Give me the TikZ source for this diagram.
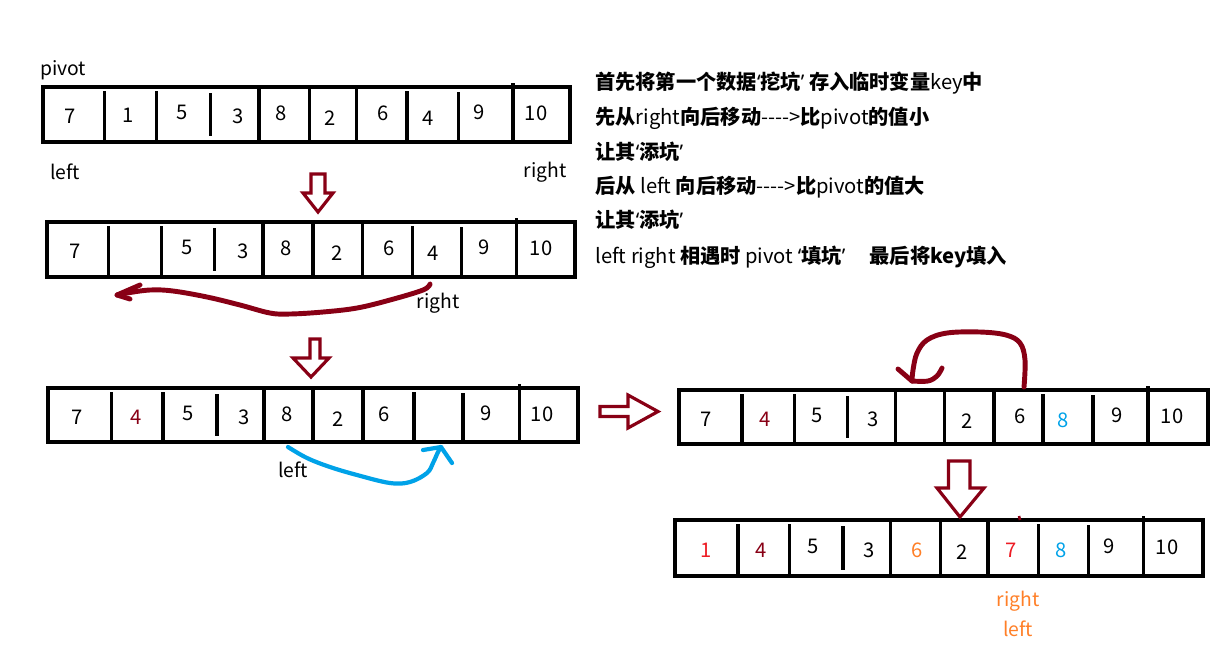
\documentclass[tikz,border=0pt]{standalone}
\usepackage{fontspec}
\setmainfont{Noto Sans CJK SC}
\newfontfamily\lat{Noto Sans}
\usepackage{tikz}
\usetikzlibrary{positioning}
\definecolor{pdarkred}{RGB}{136,0,21}
\definecolor{pblue}{RGB}{0,162,232}
\definecolor{pred}{RGB}{237,28,36}
\definecolor{porange}{RGB}{255,127,39}
\newcommand\opq{{\lat ‘}}
\newcommand\clq{{\lat ’}}

\begin{document}
\begin{tikzpicture}[x=0.02cm, y=-0.02cm, font=\fontsize{11}{13}\selectfont,
 box/.style={draw,line width=1.8pt},
 num/.style={inner sep=0pt,font=\fontsize{11.5}{13}\selectfont},
 lab/.style={inner sep=0pt},
 note/.style={anchor=west,inner sep=0pt,text height=9pt,text depth=2pt,font=\fontsize{11.5}{13}\selectfont},
 hollow/.style={draw=pdarkred,line width=1.8pt,fill=white},
 ink/.style={draw=pdarkred,line width=2.8pt,line cap=round,line join=round},
 inkb/.style={draw=pblue,line width=2.4pt,line cap=round,line join=round}]
\useasboundingbox (0,0) rectangle (1222,664);

% row 1: start
\draw[box] (43,87) rectangle (570,142);
\foreach \xd/\t/\b in {104.8/4/0, 156.5/4/0, 210.9/6/6, 259/0/0, 309.3/0/0, 356.7/0/0, 407/4/0, 458.6/5/0, 513/-4/0}
 \draw[box] (\xd,87+\t) -- (\xd,142-\b);
\foreach \xc/\dy/\v/\c [count=\i] in {70/2/7/black, 128/1/1/black, 182/-2/5/black, 238/2/3/black, 281/-1/8/black, 330/4/2/black, 383/-1/6/black, 428/4/4/black, 479/-2/9/black, 536/-1/10/black}
 \node[num,text=\c] (a\i) at (\xc,114.5+\dy) {\v};
\node[lab] (pivot) at (63,70) {pivot};
\node[lab] (left1) at (65,172) {left};
\node[lab] (right1) at (545,172) {right};

% row 2: right fills the hole
\draw[box] (47,222) rectangle (575,277);
\foreach \xd/\t/\b in {108.4/4/0, 161.3/4/0, 214.9/6/6, 263/0/0, 313/0/0, 362.4/0/0, 412.4/4/0, 461.3/5/0, 516.7/-4/0}
 \draw[box] (\xd,222+\t) -- (\xd,277-\b);
\foreach \xc/\dy/\v/\c [count=\i] in {75/2/7/black, 135/0//black, 187/-2/5/black, 243/2/3/black, 286/-1/8/black, 337/4/2/black, 389/-1/6/black, 433/4/4/black, 484/-2/9/black, 541/-1/10/black}
 \node[num,text=\c] (b\i) at (\xc,249.5+\dy) {\v};
\node[lab] (right2) at (438,303) {right};

% row 3: left fills the hole
\draw[box] (48,388) rectangle (578,442);
\foreach \xd/\t/\b in {111.7/4/0, 163/4/0, 217/6/6, 264/0/0, 313/0/0, 363/0/0, 414/4/0, 463/5/0, 519.4/-4/0}
 \draw[box] (\xd,388+\t) -- (\xd,442-\b);
\foreach \xc/\dy/\v/\c [count=\i] in {77/2/7/black, 136/2/4/pdarkred, 188/-2/5/black, 244/2/3/black, 287/-1/8/black, 338/4/2/black, 384/-1/6/black, 440/0//black, 486/-2/9/black, 542/-1/10/black}
 \node[num,text=\c] (c\i) at (\xc,415+\dy) {\v};
\node[lab] (left3) at (293,470) {left};

% row 4
\draw[box] (679,390) rectangle (1208,444);
\foreach \xd/\t/\b in {742/4/0, 794.6/4/0, 847.8/6/6, 895.4/0/0, 944.4/0/0, 994/0/0, 1043/4/0, 1093/5/0, 1148/-4/0}
 \draw[box] (\xd,390+\t) -- (\xd,444-\b);
\foreach \xc/\dy/\v/\c [count=\i] in {706/2/7/black, 765/2/4/pdarkred, 817/-2/5/black, 873/2/3/black, 920/0//black, 967/4/2/black, 1020/-1/6/black, 1063/3/8/pblue, 1117/-2/9/black, 1172/-1/10/black}
 \node[num,text=\c] (d\i) at (\xc,417+\dy) {\v};

% row 5: result
\draw[box] (675,520) rectangle (1203,576);
\foreach \xd/\t/\b in {738/4/0, 789.6/4/0, 843/6/6, 890.3/0/0, 940.8/0/0, 988/0/0, 1038.6/4/0, 1088.4/5/0, 1143.6/-4/0}
 \draw[box] (\xd,520+\t) -- (\xd,576-\b);
\foreach \xc/\dy/\v/\c [count=\i] in {706/2/1/pred, 761/2/4/pdarkred, 813/-2/5/black, 869/2/3/black, 917/2/6/porange, 962/4/2/black, 1011/2/7/pred, 1061/2/8/pblue, 1109/-2/9/black, 1167/-1/10/black}
 \node[num,text=\c] (e\i) at (\xc,548+\dy) {\v};
\node[lab,text=porange] (right5) at (1018,601) {right};
\node[lab,text=porange] (left5) at (1018,629) {left};
\draw[pdarkred,line width=1.5pt] (1019,516) -- (1020,520);

% notes
\node[note] (t1) at (595,83) {{\bfseries 首先将第一个数据\opq 挖坑\clq\ 存入临时变量}key{\bfseries 中}};
\node[note] (t2) at (595,118) {{\bfseries 先从}right{\bfseries 向后移动}{-}{-}{-}{-}>{\bfseries 比}pivot{\bfseries 的值小}};
\node[note] (t3) at (595,153) {\bfseries 让其\opq 添坑\clq};
\node[note] (t4) at (595,187) {{\bfseries 后从} left {\bfseries 向后移动}{-}{-}{-}{-}>{\bfseries 比}pivot{\bfseries 的值大}};
\node[note] (t5) at (595,221) {\bfseries 让其\opq 添坑\clq};
\node[note] (t6) at (595,257) {left right {\bfseries 相遇时} pivot {\bfseries \opq 填坑\clq}\hspace{1.2em}{\bfseries 最后将key填入}};

% hollow arrows
\draw[hollow] (311,174) -- (325,174) -- (325,193) -- (333,193) -- (318,212) -- (303,193) -- (311,193) -- cycle;
\draw[hollow] (310,339) -- (320,339) -- (320,358) -- (329,358) -- (311,377) -- (293,358) -- (310,358) -- cycle;
\draw[hollow] (600,406.5) -- (628,406.5) -- (628,395) -- (658,411.5) -- (628,428) -- (628,416.5) -- (600,416.5) -- cycle;
\draw[hollow] (948.5,461) -- (970,461) -- (970,488) -- (984,488) -- (960,517) -- (937,488) -- (948.5,488) -- cycle;

% hand drawn moves
\coordinate (s2) at (430,284);
\coordinate (h2) at (117,295);
\draw[ink] plot[smooth,tension=0.6] coordinates {(s2) (423,290) (390,300) (357,308) (323,312) (290,314) (270,313) (240,305) (207,297) (173,291) (150,290) (127,293) (h2)};
\draw[ink] (140,285) -- (h2) -- (130,299);
\coordinate (s3) at (288,447);
\coordinate (h3) at (441,447);
\draw[inkb] plot[smooth,tension=0.6] coordinates {(s3) (307,458) (330,467) (357,475) (390,483) (410,482) (427,473) (433,463) (438,452) (h3)};
\draw[inkb] (423,450) -- (h3) -- (452,463);
\coordinate (s4) at (1024,387);
\coordinate (h4) at (912,381);
\draw[ink] plot[smooth,tension=0.6] coordinates {(s4) (1025,360) (1020,343) (1006,335) (980,332) (947,333) (927,340) (917,353) (913,370) (h4)};
\draw[ink] (898,369) -- (h4);
\draw[ink] plot[smooth,tension=0.6] coordinates {(h4) (928,381) (937,376) (942,368)};
\end{tikzpicture}
\end{document}
